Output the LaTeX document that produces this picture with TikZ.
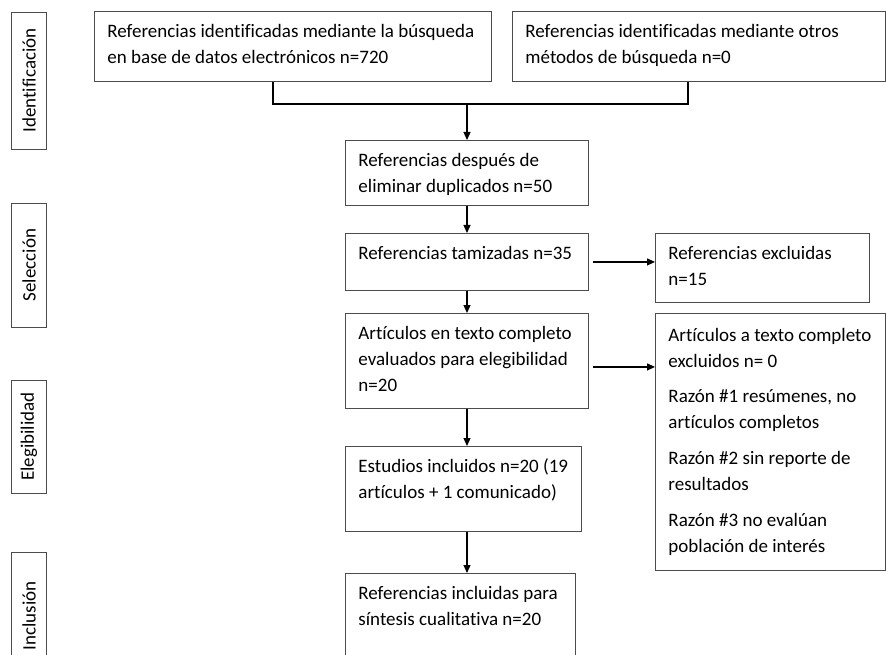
\documentclass[tikz,border=0pt]{standalone}
\usepackage{fontspec}
\setmainfont{Carlito}[Ligatures=NoCommon]
\usetikzlibrary{arrows.meta}

% texto de caja: ancho, alto, contenido
\newcommand{\caja}[3]{\parbox[t][#2][t]{#1}{\rightskip=-20pt plus 1fil\strut #3}}

\tikzset{
  bloque/.style={draw=black!70, line width=0.9pt, anchor=north west,
    inner xsep=13pt, inner ysep=8pt, font=\fontsize{19}{26}\selectfont},
  etapa/.style={draw=black!70, line width=0.9pt, rotate=90, minimum height=35pt,
    inner sep=0pt, font=\fontsize{19}{26}\selectfont},
  flecha/.style={-{Triangle[length=8pt,width=7pt]}, line width=1.2pt},
  union/.style={line width=1.2pt}
}

\begin{document}
\begin{tikzpicture}[x=1pt, y=-1pt]
  \useasboundingbox (0,0) rectangle (886,655);
  \clip (0,0) rectangle (886,655);
  % etapas
  \node[etapa, minimum width=137pt] (ident) at (29,80.5) {Identificación};
  \node[etapa, minimum width=124pt] (selec) at (29,265) {Selección};
  \node[etapa, minimum width=113pt] (elegi) at (29,436.5) {Elegibilidad};
  \node[etapa, minimum width=128pt] (inclu) at (29,616) {Inclusión};
  % cajas principales
  \node[bloque] (b1) at (94,11) {\caja{371pt}{54pt}{Referencias identificadas mediante la búsqueda\\ en base de datos electrónicos n=720}};
  \node[bloque] (b2) at (512,11) {\caja{347pt}{54pt}{Referencias identificadas mediante otros\\ métodos de búsqueda n=0}};
  \node[bloque] (b3) at (345,140) {\caja{217pt}{49pt}{Referencias después de\\ eliminar duplicados n=50}};
  \node[bloque] (b4) at (345,233) {\caja{217pt}{41pt}{Referencias tamizadas n=35}};
  \node[bloque] (b5) at (345,313) {\caja{217pt}{79pt}{Artículos en texto completo\\ evaluados para elegibilidad\\ n=20}};
  \node[bloque] (b6) at (345,446) {\caja{210pt}{69pt}{Estudios incluidos n=20 (19\\ artículos + 1 comunicado)}};
  \node[bloque] (b7) at (345,573) {\caja{204pt}{94pt}{Referencias incluidas para\\ síntesis cualitativa n=20}};
  % excluidos
  \node[bloque] (e1) at (655,233) {\caja{188pt}{53pt}{Referencias excluidas\\ n=15}};
  \node[bloque] (e2) at (655,313) {\caja{204pt}{241pt}{\rule{0pt}{20pt}Artículos a texto completo\\ excluidos n= 0\\[9pt]
    Razón \#1 resúmenes, no\\ artículos completos\\[10pt]
    Razón \#2 sin reporte de\\ resultados\\[10pt]
    Razón \#3 no evalúan\\ población de interés}};
  % conectores
  \coordinate (j1) at (273,104);
  \coordinate (j2) at (688,104);
  \coordinate (jm) at (467,104);
  \coordinate (h2) at ([xshift=4pt,yshift=-6pt]b5.east);
  \draw[union] (b1.south -| j1) -- (j1) -- (j2) -- (b2.south -| j2);
  \draw[flecha] (jm) -- (b3.north -| jm);
  \draw[flecha] (b3.south -| jm) -- (b4.north -| jm);
  \draw[flecha] (b4.south -| jm) -- (b5.north -| jm);
  \draw[flecha] (b5.south -| jm) -- (b6.north -| jm);
  \draw[flecha] (b6.south -| jm) -- (b7.north -| jm);
  \draw[flecha] ([xshift=4pt]b4.east) -- (e1.west |- b4.east);
  \draw[flecha] (h2) -- (e2.west |- h2);
\end{tikzpicture}
\end{document}
